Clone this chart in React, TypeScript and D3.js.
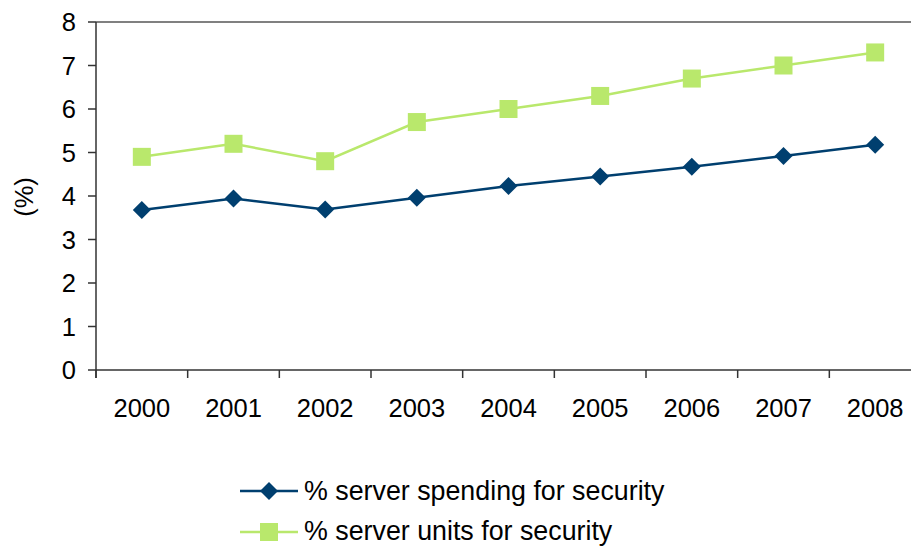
import React from "react";
import * as d3 from "d3";

const years = ["2000", "2001", "2002", "2003", "2004", "2005", "2006", "2007", "2008"];
const spending = [3.68, 3.94, 3.69, 3.96, 4.23, 4.45, 4.67, 4.92, 5.18];
const units = [4.9, 5.2, 4.8, 5.7, 6.0, 6.3, 6.7, 7.0, 7.3];
const yTicks = [0, 1, 2, 3, 4, 5, 6, 7, 8];
const seriesNames = ["% server spending for security", "% server units for security"];

const W = 911;
const H = 546;
const left = 96;
const top = 22;
const bottom = 370;
const right = 921;
const blue = "#003F6F";
const green = "#B9E86C";
const font = "Liberation Sans, Arial, sans-serif";

export default function App() {
  const x = d3.scaleBand().domain(years).range([left, right]);
  const y = d3.scaleLinear().domain([0, 8]).range([bottom, top]);
  const cx = (d: string) => (x(d) as number) + x.bandwidth() / 2;
  const line = d3.line<number>().x((_, i) => cx(years[i])).y((v) => y(v));
  const diamond = (px: number, py: number, r = 9) =>
    `M${px},${py - r}L${px + r},${py}L${px},${py + r}L${px - r},${py}Z`;
  const xTickPos = years.map((d) => x(d) as number).concat([right]);

  return (
    <svg width={W} height={H} style={{ position: "absolute", left: 0, top: 0, background: "#fff" }} fontFamily={font}>
      <line x1={left} x2={right} y1={top} y2={top} stroke="#808080" strokeWidth={2} />
      <line x1={left} x2={left} y1={top} y2={bottom + 8} stroke="#333" strokeWidth={1.5} />
      {yTicks.map((t) => (
        <g key={t}>
          <line x1={left - 8} x2={left} y1={y(t)} y2={y(t)} stroke="#333" strokeWidth={1.5} />
          <text x={76} y={y(t)} dy="0.36em" textAnchor="end" fontSize={25.5} fill="#000">
            {t}
          </text>
        </g>
      ))}
      <line x1={left} x2={right} y1={bottom} y2={bottom} stroke="#333" strokeWidth={1.5} />
      {xTickPos.map((p, i) => (
        <line key={i} x1={p} x2={p} y1={bottom} y2={bottom + 8} stroke="#333" strokeWidth={1.5} />
      ))}
      {years.map((d) => (
        <text key={d} x={cx(d)} y={417} textAnchor="middle" fontSize={25.5} fill="#000">
          {d}
        </text>
      ))}
      <text transform={`translate(33,197) rotate(-90)`} textAnchor="middle" fontSize={25.5} fill="#000">
        (%)
      </text>
      <path d={line(units) || ""} fill="none" stroke={green} strokeWidth={2.5} />
      {units.map((v, i) => (
        <rect key={i} x={cx(years[i]) - 9} y={y(v) - 9} width={18} height={18} fill={green} />
      ))}
      <path d={line(spending) || ""} fill="none" stroke={blue} strokeWidth={2.5} />
      {spending.map((v, i) => (
        <path key={i} d={diamond(cx(years[i]), y(v))} fill={blue} />
      ))}
      <line x1={240} x2={298} y1={491} y2={491} stroke={blue} strokeWidth={2.5} />
      <path d={diamond(269, 491)} fill={blue} />
      <text x={304} y={500} fontSize={26.8} fill="#000">
        {seriesNames[0]}
      </text>
      <line x1={240} x2={298} y1={532} y2={532} stroke={green} strokeWidth={2.5} />
      <rect x={260} y={523} width={18} height={18} fill={green} />
      <text x={304} y={539.5} fontSize={26.8} fill="#000">
        {seriesNames[1]}
      </text>
    </svg>
  );
}
